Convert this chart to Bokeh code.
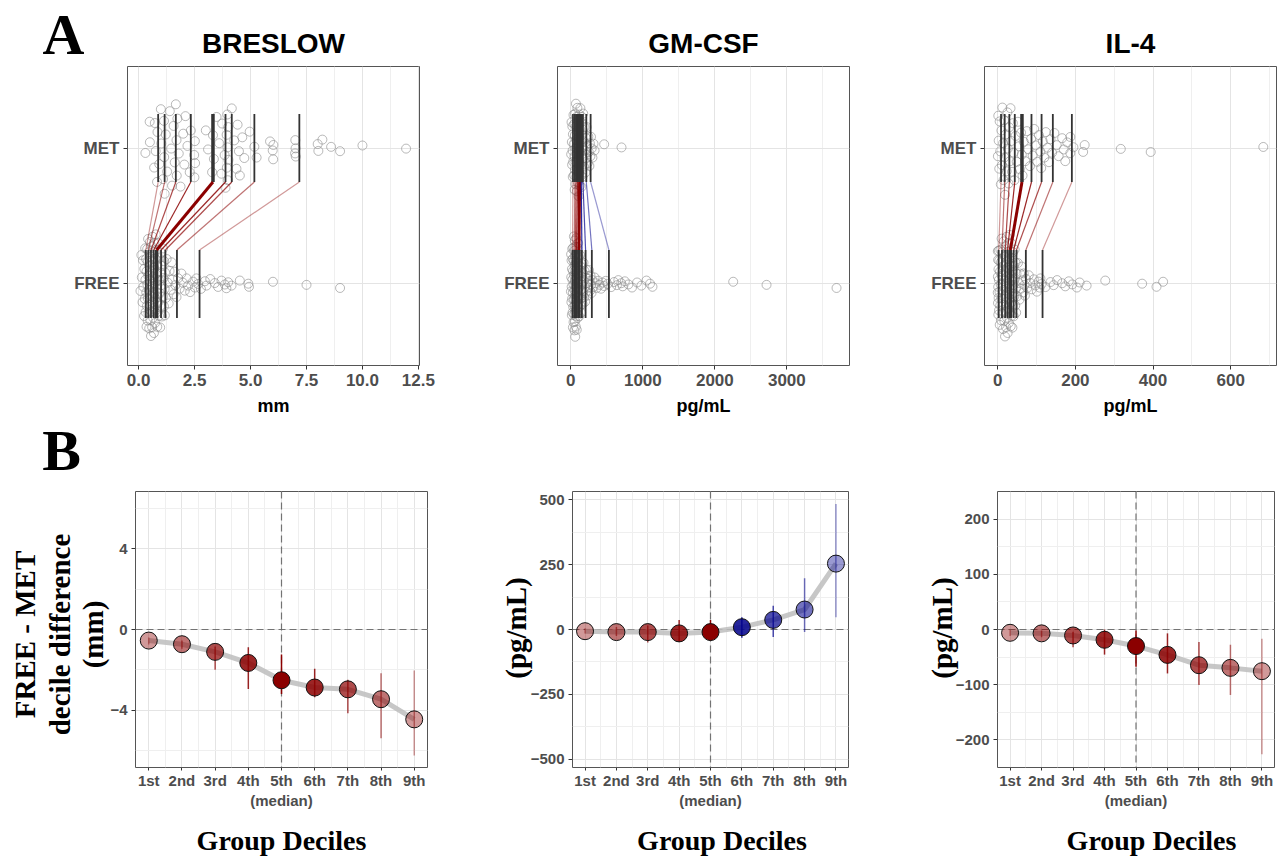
import numpy as np
from bokeh.plotting import figure
from bokeh.models import Range1d, FixedTicker, Label, Span, NumeralTickFormatter, GridBox
from bokeh.layouts import row, column
from bokeh.embed import file_html
from bokeh.resources import INLINE

# ---------------- data ----------------
panel_titles = ["BRESLOW", "GM-CSF", "IL-4"]
unit_labels = ["mm", "pg/mL", "pg/mL"]
group_labels = {1: "FREE", 2: "MET"}
decile_names = ["1st", "2nd", "3rd", "4th", "5th\n(median)", "6th", "7th", "8th", "9th"]
decile_index = [1, 2, 3, 4, 5, 6, 7, 8, 9]
diff_axis_title = ["FREE - MET", "decile difference", "(mm)"]
conc_axis_title = "(pg/mL)"
deciles_axis_title = "Group Deciles"
panel_letters = ["A", "B"]

# BRESLOW (mm)
breslow_met = [0.30, 0.49, 0.50, 0.69, 0.72, 0.76, 0.82, 0.84, 0.92, 0.99, 1.01, 1.09, 1.13, 1.14,
               1.16, 1.21, 1.27, 1.39, 1.45, 1.49, 1.56, 1.61, 1.66, 1.69, 1.70, 1.73, 1.79, 1.87,
               1.99, 2.04, 2.09, 2.18, 2.28, 2.33, 2.48, 2.49, 2.51, 2.52, 3.00, 3.10, 3.28, 3.32,
               3.36, 3.48, 3.60, 3.70, 3.73, 3.84, 3.88, 3.93, 3.94, 3.96, 3.97, 3.98, 4.00, 4.01,
               4.16, 4.27, 4.37, 4.42, 4.48, 4.52, 4.63, 4.72, 4.96, 5.17, 5.27, 5.87, 5.99, 6.01,
               6.02, 6.99, 7.00, 7.01, 7.02, 8.00, 8.03, 8.21, 8.60, 9.00, 10.00, 11.95]
breslow_free = [0.08, 0.12, 0.14, 0.17, 0.19, 0.21, 0.24, 0.25, 0.27, 0.29, 0.30, 0.31,
                0.33, 0.34, 0.35, 0.35, 0.37, 0.38, 0.39, 0.40, 0.40, 0.41, 0.42, 0.43,
                0.44, 0.45, 0.45, 0.47, 0.48, 0.49, 0.50, 0.50, 0.52, 0.53, 0.54, 0.55,
                0.56, 0.57, 0.58, 0.58, 0.60, 0.61, 0.62, 0.62, 0.64, 0.65, 0.66, 0.67,
                0.68, 0.69, 0.70, 0.70, 0.72, 0.73, 0.74, 0.75, 0.76, 0.77, 0.78, 0.79,
                0.81, 0.83, 0.84, 0.86, 0.88, 0.90, 0.91, 0.93, 0.95, 0.96, 0.97, 0.99,
                1.01, 1.02, 1.04, 1.06, 1.08, 1.09, 1.10, 1.13, 1.14, 1.16, 1.17, 1.18,
                1.22, 1.25, 1.30, 1.34, 1.38, 1.43, 1.47, 1.51, 1.56, 1.61, 1.64, 1.69,
                1.76, 1.83, 1.91, 1.98, 2.06, 2.14, 2.21, 2.30, 2.43, 2.51, 2.58, 2.66,
                2.78, 2.96, 3.03, 3.20, 3.40, 3.55, 3.70, 3.85, 3.92, 4.00, 4.15, 4.52,
                4.90, 4.93, 6.00, 7.50, 9.00]
breslow_met_dec = [0.87, 1.16, 1.66, 2.33, 3.32, 3.88, 4.16, 5.17, 7.18]
breslow_free_dec = [0.32, 0.43, 0.55, 0.67, 0.80, 1.00, 1.19, 1.71, 2.72]
breslow_diff = [-0.55, -0.73, -1.11, -1.66, -2.52, -2.88, -2.97, -3.46, -4.46]
breslow_lo = [-0.75, -0.95, -2.00, -2.95, -3.20, -3.36, -4.16, -5.40, -6.26]
breslow_hi = [-0.40, -0.55, -0.85, -0.88, -1.24, -1.95, -2.50, -2.17, -2.04]

# GM-CSF (pg/mL)
gmcsf_met = [5, 10, 14, 18, 21, 24, 27, 29, 33, 37, 40, 44, 47, 50, 53, 56,
             59, 61, 63, 65, 67, 69, 71, 73, 76, 79, 81, 84, 86, 89, 91, 93,
             97, 100, 104, 108, 111, 115, 118, 121, 124, 127, 130, 133, 136, 139, 142, 144,
             147, 150, 153, 156, 159, 162, 165, 167, 172, 178, 184, 190, 196, 202, 208, 213,
             220, 228, 235, 243, 250, 258, 265, 272, 280, 290, 300, 315, 330, 463, 704]
gmcsf_free = [2, 4, 6, 8, 10, 12, 14, 16, 18, 20, 22, 24,
              26, 28, 29, 31, 33, 35, 36, 38, 40, 41, 43, 44,
              46, 47, 49, 50, 52, 53, 55, 56, 58, 59, 60, 61,
              63, 65, 66, 68, 69, 71, 72, 74, 75, 77, 78, 79,
              82, 84, 87, 89, 92, 94, 97, 99, 102, 104, 107, 109,
              113, 116, 119, 123, 126, 130, 133, 136, 140, 143, 146, 149,
              154, 158, 163, 167, 172, 176, 181, 185, 190, 195, 199, 204,
              210, 217, 224, 231, 238, 245, 252, 259, 266, 273, 280, 287,
              300, 315, 330, 345, 360, 380, 400, 420, 440, 460, 485, 510,
              560, 600, 640, 660, 700, 720, 750, 800, 850, 920, 980, 1050, 1100, 1134,
              2255, 2718, 3690]
gmcsf_met_dec = [30, 57, 74, 94, 122, 145, 168, 215, 275]
gmcsf_free_dec = [23.5, 47, 64, 79, 112, 154, 205, 292, 529]
gmcsf_diff = [-6.5, -10, -10, -15, -10, 9, 37, 77, 254]
gmcsf_lo = [-15, -25, -50, -48, -42, -32, -29, -10, 47]
gmcsf_hi = [5, 10, 15, 37, 37, 47, 92, 198, 484]

# IL-4 (pg/mL)
il4_met = [0.5, 1.5, 2.5, 4, 5, 6.5, 8, 9.5, 11, 12, 14, 15, 16.5, 17.5,
           19, 21, 23, 25, 26, 28, 29.5, 31, 33, 35, 37, 39, 41, 43,
           46, 49, 52, 55, 57, 60, 62, 64, 67, 71, 75, 79, 83, 86,
           90, 94, 98, 102, 106, 110, 112, 116, 120, 124, 128, 132, 136, 140,
           146, 152, 157, 166, 170, 174, 179, 187, 187, 195, 220, 224, 317, 394, 684]
il4_free = [0.1, 0.3, 0.5, 0.8, 1.0, 1.3, 1.6, 2.0, 2.3, 2.7, 3.0, 3.4,
            4.0, 4.6, 5.2, 5.8, 6.4, 7.0, 7.6, 8.2, 8.8, 9.4, 10.0, 10.6,
            11.5, 12.2, 12.9, 13.6, 14.3, 15.0, 15.7, 16.4, 17.1, 17.8, 18.3, 18.8,
            19.4, 19.9, 20.4, 20.9, 21.4, 21.9, 22.4, 22.9, 23.4, 23.9, 24.4, 24.8,
            25.5, 26.0, 26.7, 27.3, 28.0, 28.6, 29.3, 29.9, 30.6, 31.2, 31.8, 32.3,
            33.0, 33.5, 34.0, 34.6, 35.1, 35.7, 36.2, 36.8, 37.3, 37.9, 38.4, 38.8,
            39.6, 40.4, 41.2, 42.0, 42.8, 43.6, 44.4, 45.2, 46.0, 46.8, 47.6, 48.4,
            50, 52, 54, 56, 58, 60, 62, 64, 66, 67, 69, 70,
            73, 76, 80, 84, 88, 93, 97, 101, 105, 108, 110, 113,
            123, 136, 144, 153, 166, 174, 183, 192, 204, 211, 229, 277, 372, 409, 426]
il4_met_dec = [8.6, 18, 30, 44, 62.5, 87, 113, 142, 191]
il4_free_dec = [2.6, 11, 19.2, 25.4, 32.5, 41, 48.3, 72.5, 115.5]
il4_diff = [-6, -7, -10.8, -18.6, -30, -46, -64.7, -69.5, -75.5]
il4_lo = [-12, -14, -32, -45.5, -67.7, -79.6, -100.6, -118.6, -226]
il4_hi = [-1, -2, -4, 0, -2, -7, -22.8, -27.6, -16.8]

# ---------------- style ----------------
SANS = "Liberation Sans"
SERIF = "Liberation Serif"
TICK_GRAY = "#4d4d4d"
RED = "#8B0000"
BLUE = "#00008B"
decile_alpha = [0.4, 0.55, 0.7, 0.85, 1.0, 0.85, 0.7, 0.55, 0.4]
TOP_H, BOT_H = 424, 437
COL_W = [470, 430, 382]


def decile_colors(diff):
    return [BLUE if d > 0 else RED for d in diff]


def sina_offsets(vals, bw, maxw):
    v = np.asarray(vals, float)
    n = len(v)
    dens = np.exp(-0.5 * ((v[:, None] - v[None, :]) / bw) ** 2).sum(axis=1)
    w = np.maximum(maxw * dens / dens.max(), 0.03)
    order = np.argsort(v, kind="stable")
    ranks = np.empty(n, int)
    ranks[order] = np.arange(n)
    u = ((ranks * 0.6180339887 + 0.37) % 1.0) * 2 - 1
    return w * u


def style_axes(p, xsize, ysize):
    for ax, size in ((p.xaxis[0], xsize), (p.yaxis[0], ysize)):
        ax.axis_line_color = None
        ax.major_tick_line_color = "#333333"
        ax.major_tick_in = 0
        ax.major_tick_out = 4
        ax.minor_tick_line_color = None
        ax.major_label_text_font = SANS
        ax.major_label_text_font_style = "bold"
        ax.major_label_text_color = TICK_GRAY
        ax.major_label_text_font_size = size
        ax.major_label_standoff = 4
    p.xgrid.grid_line_color = "#e4e4e4"
    p.ygrid.grid_line_color = "#e4e4e4"
    p.xgrid.grid_line_width = 1
    p.ygrid.grid_line_width = 1
    p.xgrid.minor_grid_line_color = "#efefef"
    p.ygrid.minor_grid_line_color = "#efefef"
    p.outline_line_color = "#555555"
    p.outline_line_width = 1


def top_panel(met, free, met_dec, free_dec, diff, xr, xticks, xminor, bw, width, bl, br, fmt=None):
    p = figure(width=width, height=TOP_H, x_range=Range1d(*xr), y_range=Range1d(0.4, 2.6),
               toolbar_location=None, output_backend="svg",
               min_border_left=bl, min_border_right=br, min_border_top=66, min_border_bottom=59)
    p.xaxis.ticker = FixedTicker(ticks=xticks, minor_ticks=xminor)
    p.yaxis.ticker = FixedTicker(ticks=[1, 2], minor_ticks=[])
    p.yaxis.major_label_overrides = group_labels
    if fmt is not None:
        p.xaxis.formatter = NumeralTickFormatter(format=fmt)
    style_axes(p, "17px", "17px")

    met_y = 2 + sina_offsets(met, bw, 0.36)
    free_y = 1 + sina_offsets(free, bw * 0.8, 0.39)
    for xs, ys in ((met, met_y), (free, free_y)):
        p.scatter(xs, ys, size=9, marker="circle", fill_alpha=0, line_color="#8a8a8a",
                  line_alpha=0.6, line_width=1)

    widths = [3.5 if i == 5 else 1.8 for i in decile_index]
    p.segment(x0=met_dec, y0=[1.75] * 9, x1=met_dec, y1=[2.25] * 9,
              line_color="#333333", line_width=widths)
    p.segment(x0=free_dec, y0=[0.75] * 9, x1=free_dec, y1=[1.25] * 9,
              line_color="#333333", line_width=widths)
    link_w = [3.0 if i == 5 else 1.2 for i in decile_index]
    p.segment(x0=met_dec, y0=[1.75] * 9, x1=free_dec, y1=[1.25] * 9,
              line_color=decile_colors(diff), line_alpha=decile_alpha, line_width=link_w)
    return p


def bottom_panel(diff, lo, hi, yr, yticks, yminor, width, bl, br, bt, fh):
    p = figure(width=width, height=BOT_H, x_range=Range1d(0.6, 9.4), y_range=Range1d(*yr),
               toolbar_location=None, output_backend="svg",
               min_border_left=bl, min_border_right=br, min_border_top=bt,
               min_border_bottom=BOT_H - bt - fh)
    p.xaxis.ticker = FixedTicker(ticks=decile_index, minor_ticks=[1.5, 2.5, 3.5, 4.5, 5.5, 6.5, 7.5, 8.5])
    p.xaxis.major_label_overrides = {i: n for i, n in zip(decile_index, decile_names)}
    p.yaxis.ticker = FixedTicker(ticks=yticks, minor_ticks=yminor)
    style_axes(p, "15px", "15px")
    p.xaxis.major_label_standoff = 0
    p.xaxis.major_tick_out = 3

    for loc, dim in ((0, "width"), (5, "height")):
        p.add_layout(Span(location=loc, dimension=dim, line_color="#666666", line_alpha=0.9,
                          line_dash="7 4", line_width=1.2, level="underlay"))

    cols = decile_colors(diff)
    p.line(decile_index, diff, line_color="#bdbdbd", line_width=5, line_alpha=0.85)
    p.segment(x0=decile_index, y0=lo, x1=decile_index, y1=hi, line_color=cols,
              line_alpha=decile_alpha, line_width=1.5)
    p.scatter(decile_index, diff, size=17, marker="circle", fill_color=cols,
              fill_alpha=decile_alpha, line_color="#111111", line_width=1)
    return p


t1 = top_panel(breslow_met, breslow_free, breslow_met_dec, breslow_free_dec, breslow_diff,
               (-0.5, 12.55), [0, 2.5, 5, 7.5, 10, 12.5], [1.25, 3.75, 6.25, 8.75, 11.25],
               0.45, COL_W[0], 127, 51, fmt="0.0")
t2 = top_panel(gmcsf_met, gmcsf_free, gmcsf_met_dec, gmcsf_free_dec, gmcsf_diff,
               (-185, 3870), [0, 1000, 2000, 3000], [500, 1500, 2500, 3500], 45, COL_W[1], 87, 51)
t3 = top_panel(il4_met, il4_free, il4_met_dec, il4_free_dec, il4_diff,
               (-34, 718), [0, 200, 400, 600], [100, 300, 500, 700], 12, COL_W[2], 84, 6)

b1 = bottom_panel(breslow_diff, breslow_lo, breslow_hi, (-6.85, 6.85), [-4, 0, 4],
                  [-6, -2, 2, 6], COL_W[0], 135, 43, 67, 276)
b2 = bottom_panel(gmcsf_diff, gmcsf_lo, gmcsf_hi, (-532, 532), [-500, -250, 0, 250, 500],
                  [-375, -125, 125, 375], COL_W[1], 102, 52, 66, 277)
b3 = bottom_panel(il4_diff, il4_lo, il4_hi, (-250, 250), [-200, -100, 0, 100, 200],
                  [-250, -150, -50, 50, 150, 250], COL_W[2], 97, 8, 66, 277)

# transparent overlay holding the free-standing texts (page pixel coordinates, y down)
W, H = sum(COL_W), TOP_H + BOT_H
ov = figure(width=W, height=H, x_range=Range1d(0, W), y_range=Range1d(H, 0),
            toolbar_location=None, output_backend="svg", x_axis_type=None, y_axis_type=None,
            min_border_left=0, min_border_right=0, min_border_top=0, min_border_bottom=0)
ov.grid.grid_line_color = None
ov.outline_line_color = None
ov.background_fill_alpha = 0
ov.border_fill_alpha = 0


def add_text(text, x, y, size, font=SANS, angle=0.0, color="black"):
    ov.add_layout(Label(x=x, y=y, text=text, text_font=font, text_font_size=size,
                        text_font_style="bold", text_color=color, text_align="center",
                        text_baseline="middle", angle=angle))


add_text(panel_letters[0], 63, 34, "58px", font=SERIF)
add_text(panel_letters[1], 61, 450, "58px", font=SERIF)
for title, unit, cx in zip(panel_titles, unit_labels, (273, 703, 1130)):
    add_text(title, cx, 43, "28px")
    add_text(unit, cx, 405, "18px")
for line, cx in zip(diff_axis_title, (24, 59, 92.5)):
    add_text(line, cx, 634, "29px", font=SERIF, angle=np.pi / 2)
for cx in (515, 941):
    add_text(conc_axis_title, cx, 627.5, "29px", font=SERIF, angle=np.pi / 2)
for cx in (281, 721.5, 1151):
    add_text(deciles_axis_title, cx, 840, "28px", font=SERIF)

grid = GridBox(children=[(row(t1, t2, t3), 0, 0),
                         (row(b1, b2, b3), 1, 0),
                         (column(ov), 0, 0, 2, 1)])
open("out.html", "w").write(file_html(grid, INLINE))
